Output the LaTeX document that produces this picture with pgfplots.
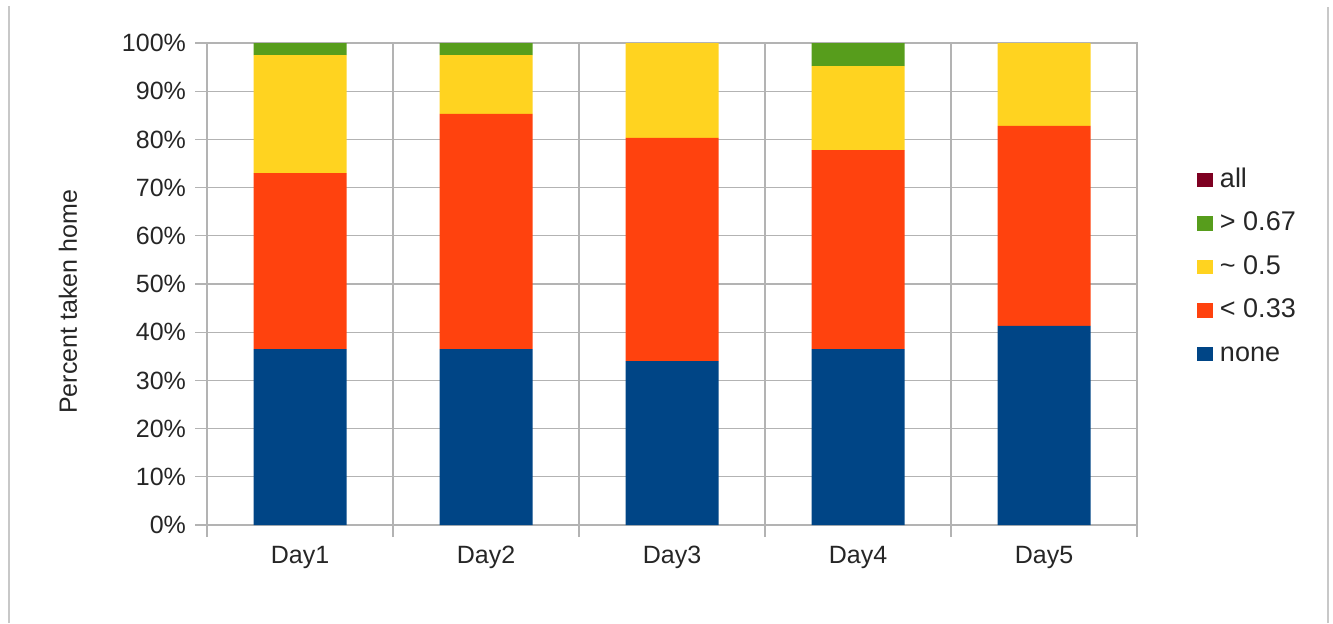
\documentclass[border=0pt]{standalone}
\usepackage{pgfplots}
\pgfplotsset{compat=1.18}
\usepackage{fontspec}
\setmainfont{Liberation Sans}

% LibreOffice default chart palette
\definecolor{cNone}{HTML}{004586}
\definecolor{cLow}{HTML}{FF420E}
\definecolor{cMid}{HTML}{FFD320}
\definecolor{cHigh}{HTML}{579D1C}
\definecolor{cAll}{HTML}{7E0021}
\definecolor{gridgray}{HTML}{B3B3B3}
\definecolor{framegray}{HTML}{C8C8C8}
\definecolor{txt}{HTML}{262626}

\begin{document}
\begin{tikzpicture}[x=0.5pt,y=0.5pt]
\useasboundingbox (0,0) rectangle (1333,623);
% outer frame sides
\draw[framegray, line width=1pt] (9,0) -- (9,617);
\draw[framegray, line width=1pt] (1328,0) -- (1328,616);
\coordinate (plotorigin) at (207,98);

\begin{axis}[
  at={(plotorigin)}, anchor=south west,
  scale only axis,
  width=465pt, height=241pt,
  ybar stacked,
  bar width=46.5pt,
  xmin=0.5, xmax=5.5,
  ymin=0, ymax=100,
  xtick={0.5,1.5,...,5.5},
  xticklabels={},
  extra x ticks={1,2,3,4,5},
  extra x tick labels={Day1,Day2,Day3,Day4,Day5},
  extra x tick style={major tick length=0pt, grid=none},
  ytick={0,10,...,100},
  yticklabels={0\%,10\%,20\%,30\%,40\%,50\%,60\%,70\%,80\%,90\%,100\%},
  xtick pos=bottom, ytick pos=left,
  tick align=outside,
  major tick length=6pt,
  xmajorgrids, ymajorgrids,
  grid style={gridgray, line width=0.6pt},
  axis line style={gridgray, line width=0.6pt},
  tick style={gridgray, line width=0.6pt},
  tick label style={font=\fontsize{12.5}{14}\selectfont, text=txt},
  xticklabel style={yshift=-7pt},
  yticklabel style={xshift=-1pt},
  ylabel={Percent taken home},
  ylabel style={at={(axis description cs:-0.1495,0.463)}, anchor=center,
    font=\fontsize{12.5}{14}\selectfont, text=txt},
  legend style={at={(1.0645,0.535)}, anchor=west, draw=none, fill=none,
    inner sep=0pt, font=\fontsize{13.5}{15}\selectfont, text=txt,
    nodes={inner sep=0pt, text height=9.7pt, text depth=2.7pt},
    row sep=9.35pt,
    /tikz/every odd column/.append style={column sep=3.5pt}},
  legend cell align=left,
  legend image code/.code={\fill[#1] (0pt,-3.6pt) rectangle (7.8pt,3.6pt);},
  reverse legend,
  every axis plot/.append style={draw=none},
]
\addplot+[fill=cNone]  coordinates {(1,36.5) (2,36.5) (3,34.0) (4,36.5) (5,41.3)};
\addplot+[fill=cLow]   coordinates {(1,36.5) (2,48.8) (3,46.3) (4,41.3) (5,41.5)};
\addplot+[fill=cMid]   coordinates {(1,24.5) (2,12.2) (3,19.7) (4,17.4) (5,17.2)};
\addplot+[fill=cHigh]  coordinates {(1,2.5) (2,2.5) (3,0) (4,4.8) (5,0)};
\addplot+[fill=cAll]   coordinates {(1,0) (2,0) (3,0) (4,0) (5,0)};
\legend{none,{< 0.33},{\textasciitilde{} 0.5},{> 0.67},all}
\end{axis}
\end{tikzpicture}
\end{document}
